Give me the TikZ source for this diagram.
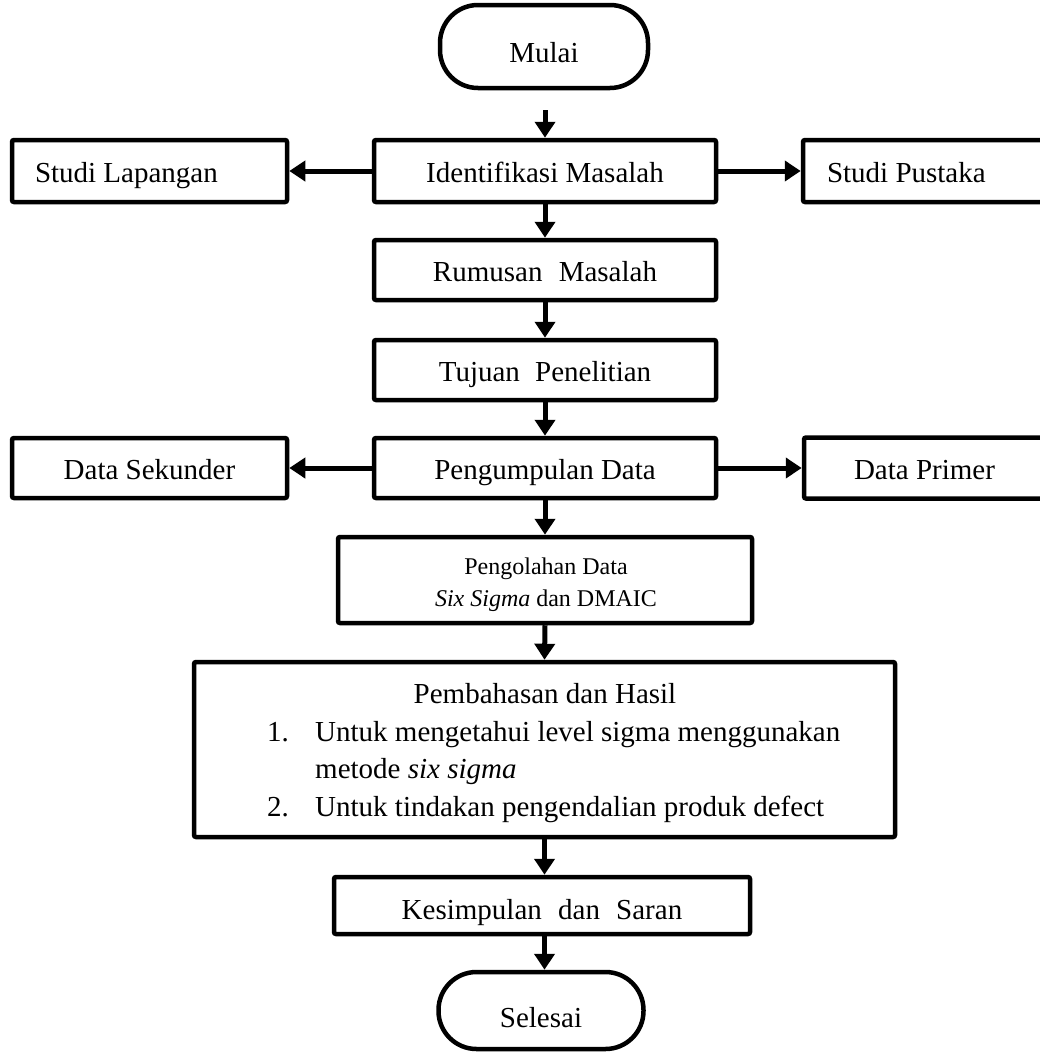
\documentclass[tikz,border=0pt]{standalone}
\usepackage{fontspec}
\setmainfont{Liberation Serif}
\usetikzlibrary{arrows.meta}
\begin{document}
\begin{tikzpicture}[x=1pt,y=-1pt,
  box/.style={draw,line width=4.5pt,rounded corners=2pt,inner sep=0pt,text height=24pt,text depth=2pt,font=\fontsize{29}{35}\selectfont},
  term/.style={draw,line width=4.5pt,rounded corners=38pt,inner sep=0pt,text height=31pt,text depth=0pt,font=\fontsize{29}{35}\selectfont},
  txt/.style={inner sep=0pt,font=\fontsize{29}{35}\selectfont},
  stxt/.style={inner sep=0pt,font=\fontsize{24}{32}\selectfont},
  arr/.style={line width=5pt,-{Triangle[width=20pt,length=16pt]}}]
\useasboundingbox (0,0) rectangle (1039,1052);
\node[term,minimum width=208pt,minimum height=83pt] (mulai) at (544,46.5) {Mulai};
\node[box,minimum width=342pt,minimum height=62pt] (iden) at (545,171) {Identifikasi Masalah\hspace{6pt}};
\node[box,minimum width=275pt,minimum height=62pt] (lap) at (149.5,171) {\makebox[229pt][l]{Studi Lapangan}};
\node[box,minimum width=242pt,minimum height=62pt] (pus) at (924,171) {\makebox[194pt][l]{Studi Pustaka}};
\node[box,minimum width=342pt,minimum height=60pt] (rum) at (545,270) {Rumusan\hspace{9pt} Masalah};
\node[box,minimum width=342pt,minimum height=60pt] (tuj) at (545,370) {Tujuan\hspace{8pt} Penelitian};
\node[box,minimum width=342pt,minimum height=60pt] (kum) at (545,468) {Pengumpulan Data};
\node[box,minimum width=275pt,minimum height=60pt] (sek) at (149.5,468) {Data Sekunder};
\node[box,minimum width=241pt,minimum height=61pt] (pri) at (924.5,468) {Data Primer};
\node[box,minimum width=414pt,minimum height=86pt] (olah) at (545,580) {};
\node[stxt,anchor=base] (ol1) at (546,574) {Pengolahan Data};
\node[stxt,anchor=base] (ol2) at (546,606) {\textit{Six Sigma} dan DMAIC};
\node[box,minimum width=701pt,minimum height=175pt] (bahas) at (544.5,749.5) {};
\node[txt,anchor=base] (h0) at (545,703) {Pembahasan dan Hasil};
\node[txt,anchor=base west] (n1) at (267,741) {1.};
\node[txt,anchor=base west] (t1) at (315,741) {Untuk mengetahui level sigma menggunakan};
\node[txt,anchor=base west] (t1b) at (315,778) {metode \textit{six sigma}};
\node[txt,anchor=base west] (n2) at (267,816) {2.};
\node[txt,anchor=base west] (t2) at (315,816) {Untuk tindakan pengendalian produk defect};
\node[box,minimum width=416pt,minimum height=57pt,text height=28pt,text depth=-1pt] (kes) at (542,905.5) {Kesimpulan\hspace{9pt} dan\hspace{9pt} Saran};
\node[term,minimum width=205pt,minimum height=77pt,text height=33pt] (sel) at (541,1010.5) {Selesai};
\coordinate (m0) at (545,110);
\draw[arr] (m0) -- (iden.north);
\draw[arr] (iden.west) -- (lap.east);
\draw[arr] (iden.east) -- (pus.west);
\draw[arr] (iden.south) -- (rum.north);
\draw[arr] (rum.south) -- (tuj.north);
\draw[arr] (tuj.south) -- (kum.north);
\draw[arr] (kum.west) -- (sek.east);
\draw[arr] (kum.east) -- (pri.west);
\draw[arr] (kum.south) -- (olah.north);
\draw[arr] (olah.south) -- (bahas.south |- bahas.north);
\draw[arr] (bahas.south) -- (bahas.south |- kes.north);
\draw[arr] (bahas.south |- kes.south) -- (bahas.south |- sel.north);
\end{tikzpicture}
\end{document}
